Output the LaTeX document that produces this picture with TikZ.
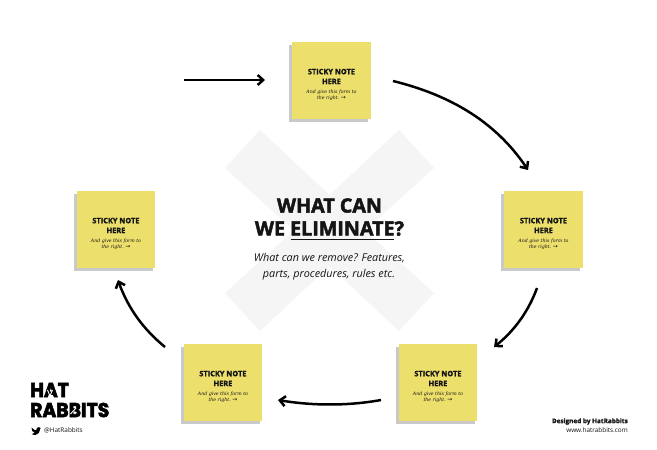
\documentclass[tikz,border=0pt]{standalone}
\usepackage{fontspec}
\usetikzlibrary{arrows.meta,bending}
\setmainfont{Open Sans}
\newfontfamily\heavyf{Open Sans}[BoldFeatures={FakeBold=2.2}]
\newfontfamily\notehead{Open Sans}[BoldFeatures={FakeBold=1.4}]
\newfontfamily\logof{Poppins}[BoldFeatures={FakeBold=3}]
\newfontfamily\notef{DejaVu Serif}
\newfontfamily\arrowf{DejaVu Sans}
\definecolor{notey}{HTML}{ECDF6C}
\definecolor{notes}{HTML}{C9C9C9}
\definecolor{xgrey}{HTML}{F5F5F5}
\definecolor{inkk}{HTML}{141414}
\tikzset{
  x=1pt,y=-1pt,
  paper/.style={fill=notes,draw=none},
  sticky/.style={fill=notey,draw=none,minimum width=78.5pt,minimum height=77pt,inner sep=0pt,anchor=north west,
    text=inkk,align=center},
  flow/.style={line width=2.5pt,draw=black,-{Straight Barb[length=5.5pt,width=10pt,bend]}},
  logotext/.style={inner sep=0pt,anchor=west,text=black,xscale=.94},
}
\newcommand{\rightarrowglyph}{{\arrowf\upshape\fontsize{6}{6}\selectfont →}}
\newcommand{\stickytext}{%
  \begin{minipage}{70pt}\centering
  \vspace{8pt}
  {\fontsize{7.4}{9.8}\selectfont\notehead\bfseries STICKY NOTE\\HERE\par}
  \vspace{3pt}
  {\fontsize{4.7}{6.2}\selectfont\notef\itshape And give this form to\\the right.\ \rightarrowglyph\par}
  \end{minipage}}
\begin{document}
\begin{tikzpicture}
\useasboundingbox (0,0) rectangle (657,450);
\fill[white] (0,0) rectangle (657,450);
% the large X
\fill[xgrey] (260,130) -- (329.5,195) -- (399,130) -- (434,168) -- (365,230.5) -- (434,293) -- (399,331)
  -- (329.5,266) -- (260,331) -- (225,293) -- (294,230.5) -- (225,168) -- cycle;
% shadows and notes
\foreach \xx/\yy in {292/42,504/191,76.5/191,183.5/344,398.5/344}
  \fill[paper] (\xx-3,\yy+3) rectangle (\xx+76,\yy+80);
\node[sticky] (top) at (292,42) {\stickytext};
\node[sticky] (right) at (504,191) {\stickytext};
\node[sticky] (left) at (76.5,191) {\stickytext};
\node[sticky] (bl) at (183.5,344) {\stickytext};
\node[sticky] (br) at (398.5,344) {\stickytext};
% connector ends
\coordinate (s1) at (184,80);
\coordinate (s2) at (393,81);
\coordinate (e2) at (528,170);
\coordinate (s3) at (537,288);
\coordinate (e3) at (494,347);
\coordinate (s4) at (381,400);
\coordinate (e4) at (278,400);
\coordinate (s5) at (165,347);
\coordinate (e5) at (118,280);
\coordinate (e1) at (265,80);
\draw[flow] (s1) -- (e1);
\draw[flow] (s2) .. controls (450,95) and (497,122) .. (e2);
\draw[flow] (s3) .. controls (529,310) and (515,331) .. (e3);
\draw[flow] (s4) .. controls (348,406) and (312,406) .. (e4);
\draw[flow] (s5) .. controls (143,329) and (127,307) .. (e5);
% centre text
\node[text=inkk,inner sep=0pt] (t1) at (329.5,205.5) {\fontsize{19.7}{24}\selectfont\heavyf\bfseries WHAT CAN};
\node[text=inkk,inner sep=0pt] (t2) at (329.5,228.5) {\fontsize{19.7}{24}\selectfont\heavyf\bfseries WE ELIMINATE?};
\draw[line width=1.3pt,inkk] (291,239.5) -- (394,239.5);
\node[text=inkk,inner sep=0pt] (t3) at (329.5,258.5) {\fontsize{10.8}{14}\selectfont\itshape What can we remove? Features,};
\node[text=inkk,inner sep=0pt] (t4) at (329,274.5) {\fontsize{10.8}{14}\selectfont\itshape parts, procedures, rules etc.};
% logo
\node[logotext] (l1) at (30,390) {\fontsize{20}{20}\selectfont\logof\bfseries HAT};
\node[logotext] (l2) at (30,410) {\fontsize{20}{20}\selectfont\logof\bfseries RABBITS};
\draw[white,line width=.9pt] (47.5,390) -- (50,396) -- (52.5,390);
\draw[white,line width=.9pt] (70.5,414) -- (76,408);
% twitter bird
\fill[black] (31.5,427.5) .. controls (33.5,429.5) and (35,430.3) .. (36.2,430.3)
  .. controls (36,428) and (37.5,427) .. (39,427.2) .. controls (39.7,427.2) and (40.3,427.6) .. (40.6,428)
  -- (38.8,433) .. controls (37.5,435) and (34.5,435.5) .. (31.5,434)
  .. controls (33,434) and (34,433.6) .. (34.6,433) .. controls (32.5,432) and (31.5,430) .. cycle;
\node[inner sep=0pt,anchor=west,text=inkk] (tw) at (44,430.5) {\fontsize{6.4}{8}\selectfont @HatRabbits};
% credits
\node[inner sep=0pt,anchor=east,text=inkk] (c1) at (628,421.5) {\fontsize{6.4}{8}\selectfont\notehead\bfseries Designed by HatRabbits};
\node[inner sep=0pt,anchor=east,text=inkk] (c2) at (628,430.5) {\fontsize{6.4}{8}\selectfont www.hatrabbits.com};
\end{tikzpicture}
\end{document}
